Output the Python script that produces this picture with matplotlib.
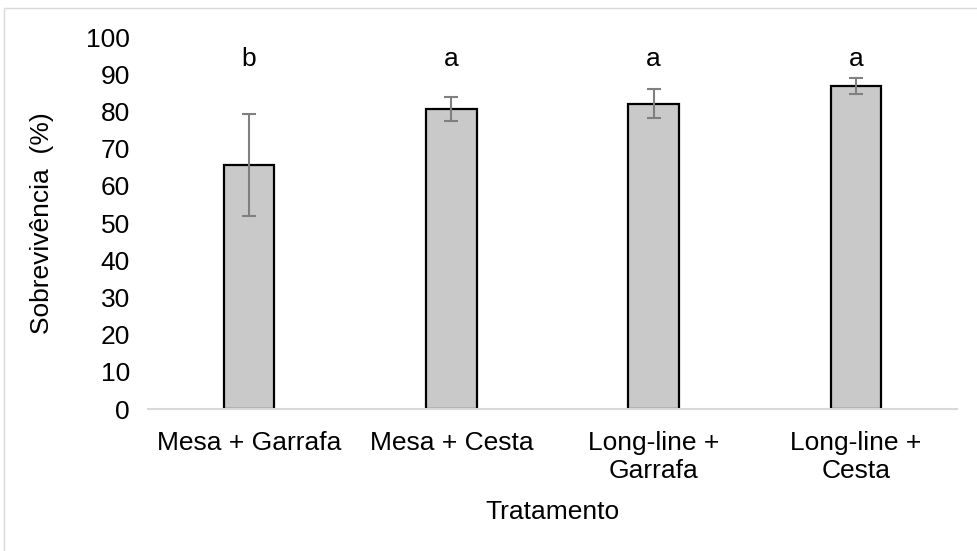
import matplotlib
matplotlib.use("Agg")
import matplotlib.pyplot as plt
from matplotlib.patches import Rectangle

plt.rcParams['font.family'] = ['Liberation Sans', 'DejaVu Sans']

categories = ["Mesa + Garrafa", "Mesa + Cesta", "Long-line +\nGarrafa", "Long-line +\nCesta"]
survival = [65.7, 80.7, 82.0, 86.8]
errors = [13.7, 3.2, 3.9, 2.1]
letters = ["b", "a", "a", "a"]
yticks = [0, 10, 20, 30, 40, 50, 60, 70, 80, 90, 100]

FS = 19

fig = plt.figure(figsize=(9.77, 5.51), dpi=100)
fig.patches.append(Rectangle((4 / 977, -0.01), 1.0, 1 - 8 / 551 + 0.01,
                             transform=fig.transFigure, fill=False,
                             edgecolor="#d9d9d9", linewidth=1.0))
ax = fig.add_axes([0.1515, 0.2577, 0.828, 0.6751])

x = list(range(len(categories)))
ax.bar(x, survival, width=0.25, color="#c9c9c9", edgecolor="black",
       linewidth=1.6, zorder=2)
ax.errorbar(x, survival, yerr=errors, fmt="none", ecolor="#7f7f7f",
            elinewidth=1.5, capsize=5, capthick=1.5, zorder=3)
for xi, lab in zip(x, letters):
    ax.text(xi, 94, lab, ha="center", va="center", fontsize=FS)

ax.set_xlim(-0.5, len(categories) - 0.5)
ax.set_ylim(0, 100)
ax.set_yticks(yticks)
ax.set_xticks(x)
ax.set_xticklabels(categories, fontsize=FS, linespacing=1.2)
ax.tick_params(axis="y", labelsize=FS, length=0, pad=13)
ax.tick_params(axis="x", length=0, pad=16)
for s in ["top", "right", "left"]:
    ax.spines[s].set_visible(False)
ax.spines["bottom"].set_color("#d9d9d9")
ax.spines["bottom"].set_linewidth(1.5)

ax.set_ylabel("Sobrevivência  (%)", fontsize=FS)
ax.yaxis.set_label_coords(-0.131, 0.5)
ax.yaxis.label.set_va("center")
ax.set_xlabel("Tratamento", fontsize=FS)
ax.xaxis.set_label_coords(0.5, -0.277)
ax.xaxis.label.set_va("center")

fig.savefig("out.png", dpi=100)
